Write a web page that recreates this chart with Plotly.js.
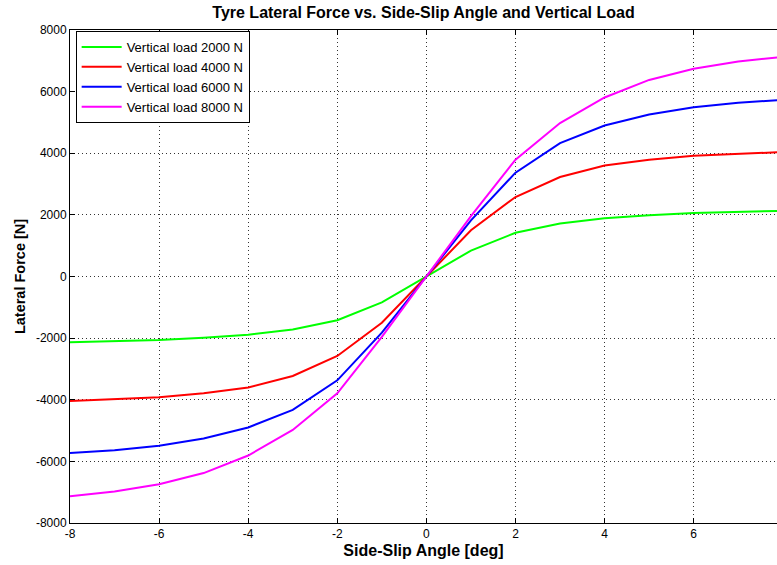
<!DOCTYPE html>
<html><head><meta charset="utf-8">
<script src="https://cdn.plot.ly/plotly-3.0.1.min.js"></script>
<style>html,body{margin:0;padding:0;background:#fff;}#chart{width:777px;height:565px;}</style>
</head><body><div id="chart"></div>
<script>
const slipAngle = [-8,-7,-6,-5,-4,-3,-2,-1,0,1,2,3,4,5,6,7,8];
const load2000 = [-2130,-2100,-2060,-1990,-1890,-1720,-1420,-840,0,840,1420,1720,1890,1990,2060,2100,2130];
const load4000 = [-4040,-3990,-3920,-3790,-3600,-3230,-2580,-1500,0,1500,2580,3230,3600,3790,3920,3990,4040];
const load6000 = [-5730,-5640,-5490,-5260,-4900,-4330,-3370,-1820,0,1820,3370,4330,4900,5260,5490,5640,5730];
const load8000 = [-7130,-6980,-6740,-6380,-5810,-4980,-3790,-1960,0,1960,3790,4980,5810,6380,6740,6980,7130];
const seriesNames = ['Vertical load 2000 N','Vertical load 4000 N','Vertical load 6000 N','Vertical load 8000 N'];
const seriesColors = ['#00ff00','#ff0000','#0000ff','#ff00ff'];
const xTicks = [-8,-6,-4,-2,0,2,4,6];
const xTickLabels = ['-8','-6','-4','-2','0','2','4','6'];
const yTicks = [-8000,-6000,-4000,-2000,0,2000,4000,6000,8000];
const yTickLabels = ['-8000','-6000','-4000','-2000','0','2000','4000','6000','8000'];

const ys = [load2000, load4000, load6000, load8000];
const data = ys.map((y,i)=>({x:slipAngle, y:y, type:'scatter', mode:'lines', name:seriesNames[i],
  line:{color:seriesColors[i], width:2}}));

const FONT = 'Liberation Sans, Arial, sans-serif';
const axisCommon = {showline:true, linecolor:'#000', linewidth:1, ticks:'inside', ticklen:5, tickcolor:'#000',
  showgrid:true, gridcolor:'#333', griddash:'1px,3px', gridwidth:1, zeroline:false,
  tickfont:{family:FONT, size:12, color:'#000'}};

const layout = {
  width:777, height:565,
  margin:{l:70, r:0, t:30, b:42},
  paper_bgcolor:'#fff', plot_bgcolor:'#fff',
  title:{text:'<b>Tyre Lateral Force vs. Side-Slip Angle and Vertical Load</b>', xref:'paper', x:0.5, xanchor:'center', y:0.988, yanchor:'top',
    font:{family:FONT, size:16, color:'#000'}},
  xaxis:Object.assign({}, axisCommon, {range:[-8,7.87], tickmode:'array', tickvals:xTicks, ticktext:xTickLabels, mirror:'ticks',
    title:{text:'<b>Side-Slip Angle [deg]</b>', standoff:4, font:{family:FONT, size:16, color:'#000'}}}),
  yaxis:Object.assign({}, axisCommon, {range:[-8000,8000], tickmode:'array', tickvals:yTicks, ticktext:yTickLabels,
    title:{text:'<b>Lateral Force [N]</b>', standoff:6, font:{family:FONT, size:14.5, color:'#000'}}}),
  showlegend:true,
  legend:{x:0.008, y:0.998, xanchor:'left', yanchor:'top', bgcolor:'#fff', bordercolor:'#000', borderwidth:1,
    font:{family:FONT, size:13, color:'#000'}, tracegroupgap:0, itemwidth:40}
};
Plotly.newPlot('chart', data, layout, {displayModeBar:false, staticPlot:true});
</script></body></html>
